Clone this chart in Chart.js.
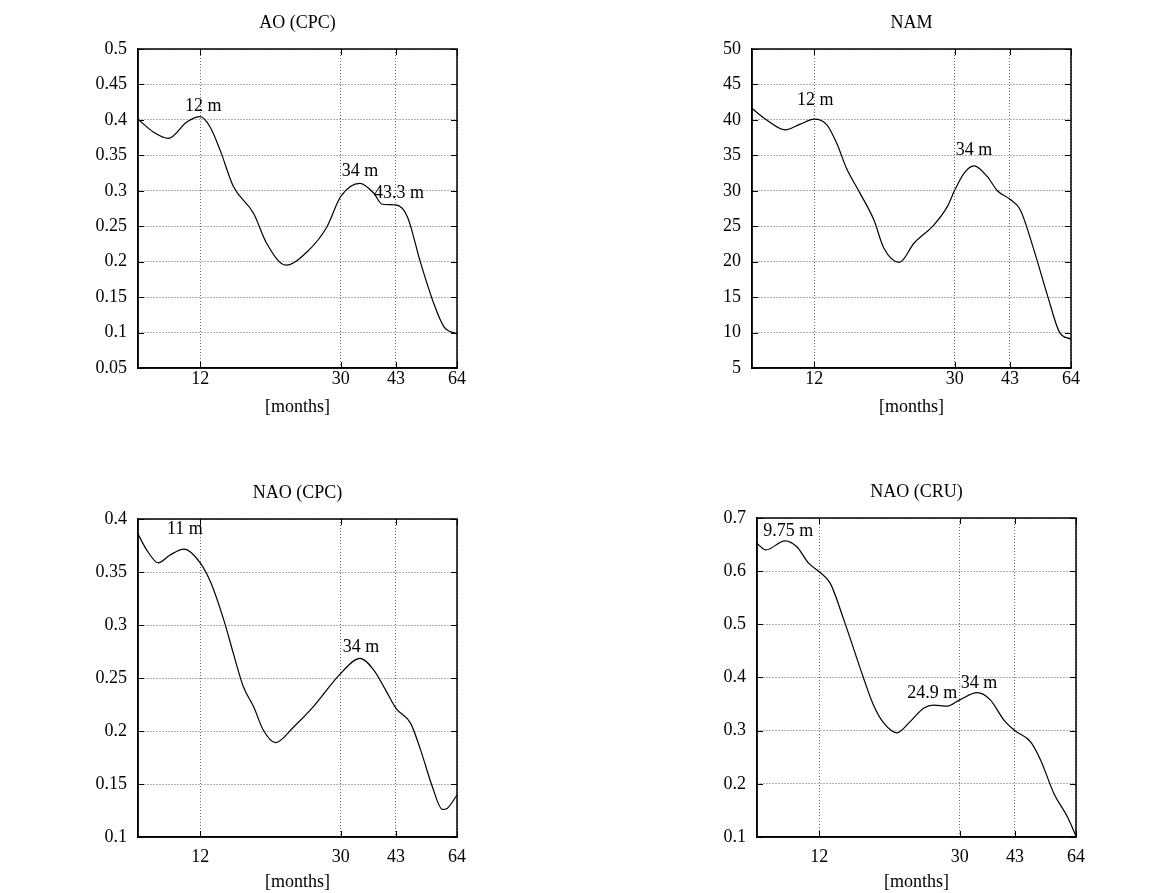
<!DOCTYPE html>
<html>
<head>
<meta charset="utf-8">
<script src="https://cdn.jsdelivr.net/npm/chart.js@4"></script>
<style>
  body { margin: 0; background: #fff; }
  #wrap { position: relative; width: 1150px; height: 893px; }
  canvas { position: absolute; }
</style>
</head>
<body>
<div id="wrap">
  <canvas id="ao" width="575" height="446" style="left:0;top:0"></canvas>
  <canvas id="nam" width="575" height="446" style="left:575px;top:0"></canvas>
  <canvas id="naoCpc" width="575" height="447" style="left:0;top:446px"></canvas>
  <canvas id="naoCru" width="575" height="447" style="left:575px;top:446px"></canvas>
</div>
<script>
// periods in months (log axis), spectrum values
const xTicks = [12, 30, 43, 64];

const periodsAO = [8, 8.84, 9.75, 11.0, 12, 12.8, 13.67, 14.9, 17.0, 18.5, 21.0, 24.1, 27.4, 30, 34, 37.2, 39.3, 43, 46.3, 50.5, 55, 58.8, 64];
const valuesAO = [0.401, 0.383, 0.374, 0.397, 0.4045, 0.390, 0.357, 0.306, 0.268, 0.226, 0.195, 0.214, 0.249, 0.292, 0.3105, 0.2965, 0.281, 0.280, 0.2635, 0.198, 0.141, 0.108, 0.098];
const yTicksAO = [0.05, 0.1, 0.15, 0.2, 0.25, 0.3, 0.35, 0.4, 0.45, 0.5];
const peaksAO = [12, 34, 43.3];

const periodsNAM = [8, 8.8, 9.93, 10.95, 12, 13.03, 13.9, 14.8, 16.2, 17.7, 18.9, 20.9, 23.0, 26.2, 28.6, 30, 31.9, 34, 37.1, 39.6, 43, 46, 50.3, 55, 59.3, 64];
const valuesNAM = [41.6, 40.0, 38.6, 39.4, 40.1, 39.3, 36.7, 33.2, 29.6, 25.9, 21.9, 19.9, 22.6, 25.2, 27.8, 30.1, 32.5, 33.5, 32.0, 30.0, 28.8, 27.3, 21.6, 15.1, 10.1, 9.05];
const yTicksNAM = [5, 10, 15, 20, 25, 30, 35, 40, 45, 50];
const peaksNAM = [12, 34];

const periodsNAOcpc = [8, 8.47, 9.13, 9.86, 10.8, 12, 12.9, 14.0, 14.9, 15.9, 17.0, 18.1, 19.6, 22.1, 25.1, 30, 34, 37.2, 40.2, 43, 47.3, 50.5, 54.5, 58.2, 60, 64];
const valuesNAOcpc = [0.3858, 0.3707, 0.3587, 0.366, 0.3716, 0.3587, 0.339, 0.3046, 0.273, 0.2417, 0.2229, 0.2009, 0.189, 0.204, 0.223, 0.2544, 0.2685, 0.2575, 0.2386, 0.2214, 0.2072, 0.182, 0.1474, 0.126, 0.127, 0.1396];
const yTicksNAOcpc = [0.1, 0.15, 0.2, 0.25, 0.3, 0.35, 0.4];
const peaksNAOcpc = [11, 34];

const periodsNAOcru = [8, 8.48, 9.6, 10.37, 11.2, 12, 12.9, 14.1, 16.0, 17.1, 18.3, 19.9, 21.7, 23.7, 25.3, 27.6, 30, 33.6, 36.6, 40.0, 43, 47.6, 50.8, 55.4, 60.5, 64];
const valuesNAOcru = [0.652, 0.640, 0.657, 0.646, 0.615, 0.599, 0.577, 0.508, 0.40, 0.348, 0.314, 0.296, 0.317, 0.342, 0.348, 0.346, 0.358, 0.3715, 0.358, 0.320, 0.300, 0.279, 0.245, 0.182, 0.138, 0.102];
const yTicksNAOcru = [0.1, 0.2, 0.3, 0.4, 0.5, 0.6, 0.7];
const peaksNAOcru = [9.75, 24.9, 34];

Chart.defaults.font.family = "'Liberation Serif', 'Times New Roman', serif";
Chart.defaults.font.size = 18;
Chart.defaults.color = '#000';

// value of the curve at a given period (linear in log period)
function curveAt(periods, values, p) {
  for (let i = 1; i < periods.length; i++) {
    if (p <= periods[i]) {
      const t = Math.log(p / periods[i - 1]) / Math.log(periods[i] / periods[i - 1]);
      return values[i - 1] + t * (values[i] - values[i - 1]);
    }
  }
  return values[values.length - 1];
}

function makeChart(id, title, periods, values, yTicks, peaks, lay) {
  const decor = {
    id: 'decor',
    afterDatasetsDraw(chart) {
      const {ctx, chartArea: a, scales: {x, y}} = chart;
      ctx.save();
      ctx.strokeStyle = '#000';
      ctx.lineWidth = 1;
      ctx.beginPath();
      x.ticks.forEach(t => {
        const px = Math.round(x.getPixelForValue(t.value)) + 0.5;
        ctx.moveTo(px, a.bottom); ctx.lineTo(px, a.bottom - 6);
        ctx.moveTo(px, a.top); ctx.lineTo(px, a.top + 6);
      });
      y.ticks.forEach(t => {
        const py = Math.round(y.getPixelForValue(t.value)) + 0.5;
        ctx.moveTo(a.left, py); ctx.lineTo(a.left + 6, py);
        ctx.moveTo(a.right, py); ctx.lineTo(a.right - 6, py);
      });
      ctx.stroke();
      ctx.lineWidth = 1.5;
      ctx.strokeRect(a.left, a.top, a.right - a.left, a.bottom - a.top);

      ctx.fillStyle = '#000';
      ctx.font = "18px 'Liberation Serif'";
      ctx.textAlign = 'center';
      ctx.textBaseline = 'middle';
      ctx.fillText(title, (a.left + a.right) / 2, a.top - 26);
      peaks.forEach((p, i) => {
        const v = curveAt(periods, values, p);
        const [dx, dy] = lay.offsets[i];
        ctx.fillText(p + ' m', x.getPixelForValue(p) + dx, y.getPixelForValue(v) + dy);
      });
      ctx.restore();
    }
  };

  return new Chart(document.getElementById(id), {
    type: 'line',
    data: {
      datasets: [{
        data: periods.map((p, i) => ({x: p, y: values[i]})),
        borderColor: '#000',
        borderWidth: 1.2,
        pointRadius: 0,
        fill: false,
        cubicInterpolationMode: 'monotone'
      }]
    },
    options: {
      responsive: false,
      animation: false,
      layout: {padding: lay.padding},
      plugins: {legend: {display: false}, tooltip: {enabled: false}},
      scales: {
        x: {
          type: 'logarithmic',
          min: 8,
          max: 64,
          afterBuildTicks: s => { s.ticks = xTicks.map(v => ({value: v})); },
          afterFit: s => { s.height = lay.xHeight; },
          ticks: {autoSkip: false, maxRotation: 0, padding: lay.tickPad, callback: v => String(v)},
          grid: {color: '#666', lineWidth: 1, drawTicks: false},
          border: {display: true, color: '#000', width: 1.5, dash: [1, 2]},
          title: {display: true, text: '[months]', padding: 0}
        },
        y: {
          min: yTicks[0],
          max: yTicks[yTicks.length - 1],
          afterBuildTicks: s => { s.ticks = yTicks.map(v => ({value: v})); },
          afterFit: s => { s.width = 60; },
          ticks: {padding: 11, callback: v => String(v)},
          grid: {color: '#666', lineWidth: 1, drawTicks: false},
          border: {display: true, color: '#000', width: 1.5, dash: [1, 2]}
        }
      }
    },
    plugins: [decor]
  });
}

makeChart('ao', 'AO (CPC)', periodsAO, valuesAO, yTicksAO, peaksAO, {
  padding: {left: 78, right: 118, top: 49, bottom: 28}, xHeight: 50, tickPad: 0,
  offsets: [[3, -10], [0, -12], [2, -13]]
});
makeChart('nam', 'NAM', periodsNAM, valuesNAM, yTicksNAM, peaksNAM, {
  padding: {left: 117, right: 79, top: 49, bottom: 28}, xHeight: 50, tickPad: 0,
  offsets: [[1, -19], [0, -16]]
});
makeChart('naoCpc', 'NAO (CPC)', periodsNAOcpc, valuesNAOcpc, yTicksNAOcpc, peaksNAOcpc, {
  padding: {left: 78, right: 118, top: 73, bottom: 0}, xHeight: 56, tickPad: 9,
  offsets: [[-2, -22], [1, -11]]
});
makeChart('naoCru', 'NAO (CRU)', periodsNAOcru, valuesNAOcru, yTicksNAOcru, peaksNAOcru, {
  padding: {left: 122, right: 74, top: 72, bottom: 0}, xHeight: 56, tickPad: 9,
  offsets: [[1, -11], [1, -13], [0, -10]]
});
</script>
</body>
</html>
